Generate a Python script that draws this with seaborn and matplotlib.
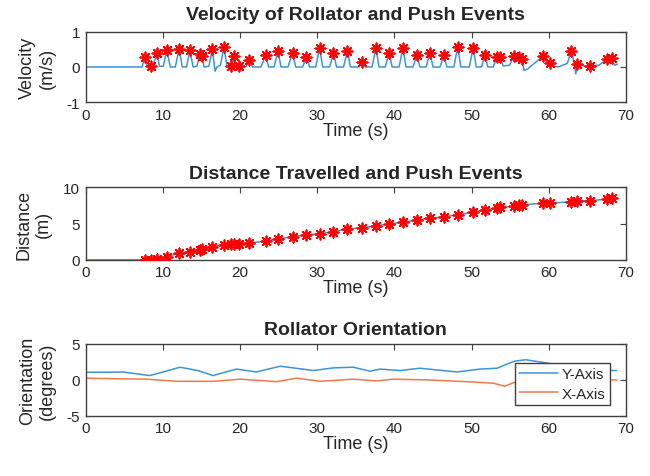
import matplotlib
matplotlib.use('Agg')
import matplotlib.pyplot as plt
import seaborn as sns

# Velocity trace (time in s, velocity in m/s)
vel_t = [0, 7.3, 7.65, 7.95, 8.4, 8.75, 9.2, 9.55, 10.05, 10.5, 10.95, 11.6, 12.1, 12.5, 13.05,
         13.5, 13.9, 14.4, 14.8, 15.0, 15.35, 15.95, 16.4, 16.75, 17.0, 17.45, 17.9, 18.3, 18.8,
         19.2, 19.5, 19.8, 20.3, 20.8, 21.2, 21.6, 22.7, 23.3, 23.7, 24.4, 24.9, 25.3, 26.2,
         26.8, 27.2, 28.1, 28.6, 29.0, 29.8, 30.3, 30.7, 31.6, 32.1, 32.5, 33.4, 33.9, 34.3,
         35.3, 35.8, 36.2, 37.1, 37.6, 38.0, 38.8, 39.3, 39.7, 40.6, 41.1, 41.5, 42.4, 42.9,
         43.3, 44.1, 44.6, 45.0, 45.9, 46.4, 46.8, 47.7, 48.2, 48.6, 49.7, 50.2, 50.6, 51.3,
         51.7, 52.1, 52.8, 53.3, 53.5, 53.7, 54.1, 54.9, 55.5, 55.8, 56.1, 56.5, 56.8, 57.3,
         59.3, 59.7, 60.2, 60.6, 61.2, 62.4, 62.9, 63.3, 63.5, 63.7, 64.5, 65.4, 66.5, 67.5,
         67.8, 68.2, 68.5, 68.9]
vel_v = [0, 0, 0.29, 0.03, 0.02, 0.05, 0.4, 0.02, 0.02, 0.49, 0.0, 0.0, 0.52, 0.0, 0.0,
         0.47, 0.0, 0.02, 0.37, 0.3, 0.0, 0.02, 0.5, -0.12, 0.0, 0.05, 0.58, 0.0, 0.04,
         0.3, 0.05, 0.04, 0.0, 0.02, 0.21, 0.0, 0.0, 0.33, 0.0, 0.0, 0.45, 0.0, 0.0,
         0.4, 0.0, 0.0, 0.29, 0.0, 0.0, 0.55, 0.0, 0.0, 0.4, 0.0, 0.0, 0.45, 0.0,
         0.0, 0.15, 0.0, 0.0, 0.55, 0.0, 0.0, 0.4, 0.0, 0.0, 0.55, 0.0, 0.0, 0.33,
         0.0, 0.0, 0.4, 0.0, 0.0, 0.33, 0.0, 0.0, 0.58, 0.0, 0.0, 0.55, 0.0, 0.0,
         0.35, 0.0, 0.0, 0.28, 0.2, 0.28, 0.03, 0.05, 0.3, 0.2, 0.28, 0.24, -0.1, -0.05,
         0.32, 0.15, 0.11, 0.03, 0.0, 0.1, 0.46, 0.1, -0.2, 0.08, 0.03, 0.03, 0.05, 0.22,
         0.1, 0.26, 0.05, 0.08]

# Push events: time, velocity at the event, distance at the event
event_t = [7.65, 8.4, 9.2, 10.5, 12.1, 13.5, 14.8, 15.0, 16.4, 17.9, 18.8, 19.2, 19.8, 21.2,
           23.3, 24.9, 26.8, 28.6, 30.3, 32.1, 33.9, 35.8, 37.6, 39.3, 41.1, 42.9, 44.6, 46.4,
           48.2, 50.2, 51.7, 53.3, 53.7, 55.5, 56.1, 56.5, 59.3, 60.2, 62.9, 63.7, 65.4, 67.5, 68.2]
event_vel = [0.29, 0.02, 0.4, 0.49, 0.52, 0.47, 0.37, 0.3, 0.5, 0.58, 0.04, 0.3, 0.04, 0.21,
             0.33, 0.45, 0.4, 0.29, 0.55, 0.4, 0.45, 0.15, 0.55, 0.4, 0.55, 0.33, 0.4, 0.33,
             0.58, 0.55, 0.35, 0.28, 0.28, 0.3, 0.28, 0.24, 0.32, 0.11, 0.46, 0.08, 0.03, 0.22, 0.26]
event_dist = [0.05, 0.05, 0.15, 0.45, 0.92, 1.06, 1.38, 1.5, 1.83, 2.1, 2.2, 2.2, 2.2, 2.34,
              2.57, 2.9, 3.2, 3.48, 3.58, 3.9, 4.26, 4.45, 4.68, 4.95, 5.19, 5.5, 5.74, 5.96,
              6.23, 6.56, 6.92, 7.1, 7.25, 7.39, 7.52, 7.57, 7.84, 7.84, 8.02, 8.16, 8.16, 8.39, 8.49]

# Distance trace before the first and after the last event
dist_start_t = [0, 7.3]
dist_start_v = [0, 0]
dist_end_t = [68.9]
dist_end_v = [8.5]

# Orientation (degrees)
orient_y_t = [0, 2.5, 4.8, 8.3, 10.0, 12.2, 14.5, 16.5, 19.5, 22.1, 25.2, 29.5, 32.1, 34.7,
              36.8, 38.1, 40.7, 43.3, 48.1, 51.1, 53.3, 54.6, 55.6, 57.0, 60.0, 64.0, 68.2, 68.8]
orient_y = [1.06, 1.06, 1.1, 0.6, 1.1, 1.76, 1.3, 0.6, 1.5, 1.1, 1.9, 1.3, 1.67, 1.76,
            1.2, 1.5, 1.3, 1.62, 1.1, 1.5, 1.62, 2.2, 2.6, 2.8, 2.3, 1.6, 1.3, 1.3]
orient_x_t = [0, 7.9, 11.8, 16.5, 20.0, 24.7, 27.3, 30.4, 34.7, 37.7, 39.8, 44.2, 49.4,
              52.8, 54.3, 55.4, 58.0, 62.0, 66.0, 68.8]
orient_x = [0.23, 0.1, -0.2, -0.2, 0.1, -0.25, 0.23, -0.2, 0.1, -0.15, 0.1, 0.0, -0.25,
            -0.46, -0.88, -0.4, 0.0, 0.1, 0.0, 0.0]

BLUE = '#3d94d4'
ORANGE = '#ee7a4c'
STAR = (8, 2, 0)

sns.set_style('white')
plt.rcParams['font.family'] = ['Liberation Sans', 'DejaVu Sans']
plt.rcParams['axes.unicode_minus'] = False
plt.rcParams['axes.edgecolor'] = '#404040'
plt.rcParams['axes.linewidth'] = 1.0
plt.rcParams['xtick.direction'] = 'in'
plt.rcParams['ytick.direction'] = 'in'

fig, axes = plt.subplots(3, 1, figsize=(6.5, 4.77), dpi=100)
positions = [[0.132, 0.784, 0.831, 0.147],
             [0.132, 0.453, 0.831, 0.152],
             [0.132, 0.126, 0.831, 0.151]]
for ax, pos in zip(axes, positions):
    ax.set_position(pos)

# Velocity
ax = axes[0]
sns.lineplot(x=vel_t, y=vel_v, ax=ax, color=BLUE, linewidth=1.1, estimator=None, sort=False)
sns.scatterplot(x=event_t, y=event_vel, ax=ax, marker=STAR, color='red', s=55, linewidth=1.3, zorder=3)
ax.set_ylim(-1, 1)
ax.set_yticks([-1, 0, 1])
ax.set_title('Velocity of Rollator and Push Events', fontsize=14, fontweight='bold', pad=9)
ax.set_ylabel('Velocity\n(m/s)', fontsize=13, labelpad=8)

# Distance
ax = axes[1]
sns.lineplot(x=dist_start_t + event_t + dist_end_t, y=dist_start_v + event_dist + dist_end_v,
             ax=ax, color=BLUE, linewidth=1.1, estimator=None, sort=False)
sns.scatterplot(x=event_t, y=event_dist, ax=ax, marker=STAR, color='red', s=55, linewidth=1.3, zorder=3)
ax.set_ylim(0, 10)
ax.set_yticks([0, 5, 10])
ax.set_title('Distance Travelled and Push Events', fontsize=14, fontweight='bold', pad=7)
ax.set_ylabel('Distance\n(m)', fontsize=13, labelpad=8)

# Orientation
ax = axes[2]
sns.lineplot(x=orient_y_t, y=orient_y, ax=ax, color=BLUE, linewidth=1.1, label='Y-Axis', estimator=None, sort=False)
sns.lineplot(x=orient_x_t, y=orient_x, ax=ax, color=ORANGE, linewidth=1.1, label='X-Axis', estimator=None, sort=False)
ax.set_ylim(-5, 5)
ax.set_yticks([-5, 0, 5])
ax.set_title('Rollator Orientation', fontsize=14, fontweight='bold', pad=7)
ax.set_ylabel('Orientation\n(degrees)', fontsize=13, labelpad=8)
leg = ax.legend(loc='lower right', bbox_to_anchor=(0.97, 0.15), fontsize=11, fancybox=False,
                framealpha=1, edgecolor='#404040', handlelength=2.5, borderpad=0.3,
                labelspacing=0.35, handletextpad=0.25, borderaxespad=0)
leg.get_frame().set_linewidth(1.0)

for ax in axes:
    ax.set_xlim(0, 70)
    ax.set_xticks(range(0, 71, 10))
    ax.set_xlabel('Time (s)', fontsize=13, labelpad=0)
    ax.tick_params(axis='both', labelsize=11, length=4, width=0.8, top=True, right=True,
                   color='#404040', pad=4)

fig.savefig('out.png', dpi=100, facecolor='white')
